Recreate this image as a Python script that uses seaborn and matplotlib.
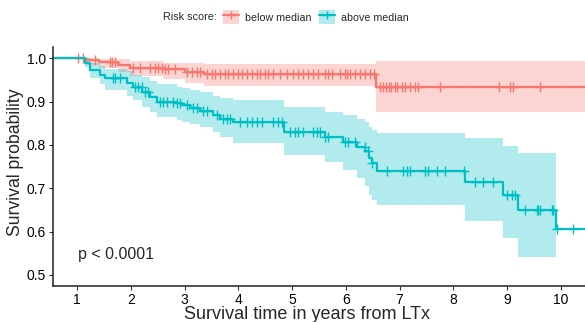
import numpy as np
import pandas as pd
import seaborn as sns
import matplotlib.pyplot as plt
from matplotlib.patches import Patch
from matplotlib.lines import Line2D

# Kaplan-Meier estimates (time in years from LTx)
low_time = [0.0, 1.15, 1.40, 1.75, 1.98, 2.60, 3.00, 3.35, 6.56, 10.6]
low_surv = [1.0, 0.996, 0.992, 0.985, 0.978, 0.975, 0.969, 0.964, 0.934, 0.934]
low_upper = [1.0, 1.0, 0.998, 0.998, 0.993, 0.990, 0.990, 0.987, 0.994, 0.994]
low_lower = [1.0, 0.985, 0.978, 0.968, 0.958, 0.952, 0.944, 0.935, 0.877, 0.877]
low_censor = [1.01, 1.11, 1.33, 1.61, 1.65, 1.70, 2.04, 2.17, 2.35, 2.45, 2.50, 2.58,
              2.63, 2.69, 2.82, 3.04, 3.14, 3.23, 3.29, 3.41, 3.51, 3.56, 3.65, 3.75,
              3.81, 3.90, 3.99, 4.07, 4.16, 4.25, 4.34, 4.40, 4.49, 4.55, 4.64, 4.77,
              4.90, 5.02, 5.11, 5.20, 5.30, 5.39, 5.48, 5.61, 5.67, 5.74, 5.89, 5.99,
              6.02, 6.08, 6.17, 6.26, 6.35, 6.45, 6.52, 6.63, 6.69, 6.74, 6.80, 6.85,
              6.91, 6.96, 7.04, 7.11, 7.19, 7.28, 7.34, 7.75, 8.85, 9.06, 9.12, 9.62]

high_time = [0.0, 1.11, 1.15, 1.24, 1.42, 1.52, 1.93, 2.04, 2.21, 2.35, 2.48, 2.86,
             2.95, 3.10, 3.28, 3.52, 3.66, 3.90, 4.85, 5.61, 5.95, 6.21, 6.36, 6.43,
             6.49, 6.58, 8.22, 8.93, 9.21, 9.91, 10.6]
high_surv = [1.0, 1.0, 0.99, 0.973, 0.961, 0.954, 0.942, 0.933, 0.923, 0.911, 0.900, 0.896,
             0.892, 0.885, 0.879, 0.869, 0.859, 0.854, 0.830, 0.819, 0.807, 0.796, 0.785, 0.770,
             0.758, 0.741, 0.715, 0.685, 0.651, 0.605, 0.605]
# band stops at the last event (9.91 years)
high_upper = [1.0, 1.0, 0.998, 0.990, 0.982, 0.976, 0.970, 0.962, 0.956, 0.948, 0.940, 0.934,
              0.931, 0.927, 0.923, 0.914, 0.908, 0.904, 0.888, 0.877, 0.869, 0.861, 0.853, 0.842,
              0.835, 0.828, 0.815, 0.797, 0.782, 0.782]
high_lower = [1.0, 1.0, 0.980, 0.955, 0.940, 0.927, 0.912, 0.904, 0.888, 0.875, 0.865, 0.857,
              0.854, 0.848, 0.842, 0.830, 0.819, 0.804, 0.777, 0.761, 0.742, 0.723, 0.705, 0.685,
              0.672, 0.661, 0.625, 0.585, 0.542, 0.542]
high_censor = [1.67, 1.70, 1.80, 2.07, 2.13, 2.20, 2.26, 2.32, 2.54, 2.60, 2.67, 2.78,
               2.86, 2.91, 3.04, 3.16, 3.23, 3.34, 3.42, 3.60, 3.71, 3.79, 3.84, 4.03,
               4.16, 4.25, 4.34, 4.44, 4.64, 4.73, 4.81, 4.96, 5.05, 5.11, 5.20, 5.39,
               5.46, 5.52, 5.61, 5.67, 5.99, 6.04, 6.17, 6.35, 6.41, 6.49, 6.77, 7.06,
               7.14, 7.19, 7.47, 7.53, 7.70, 7.85, 8.20, 8.40, 8.55, 8.74, 9.00, 9.09,
               9.15, 9.33, 9.56, 9.58, 9.62, 9.84, 9.86, 9.93, 10.23]

groups = ["below median", "above median"]
colors = {"below median": "#F8766D", "above median": "#00BFC4"}

sns.set_style("white")
plt.rcParams['font.family'] = ['Liberation Sans', 'DejaVu Sans']

fig = plt.figure(figsize=(5.85, 3.22), dpi=100)
ax = fig.add_axes([53 / 585, 36 / 322, 532 / 585, 239 / 322])

series = {
    "below median": (low_time, low_surv, low_upper, low_lower, low_censor),
    "above median": (high_time, high_surv, high_upper, high_lower, high_censor),
}

for g in groups:
    t, s, up, lo, cens = series[g]
    col = colors[g]
    n = len(up)
    ax.fill_between(t[:n], lo, up, step="post", color=col, alpha=0.3, linewidth=0)
    df = pd.DataFrame({"time": t, "surv": s})
    sns.lineplot(data=df, x="time", y="surv", drawstyle="steps-post", color=col,
                 linewidth=1.6, ax=ax, estimator=None, sort=False)
    # censor marks sit on the curve
    idx = np.searchsorted(np.array(t), np.array(cens), side="right") - 1
    ax.plot(cens, np.array(s)[idx], ls="none", marker="+", color=col,
            markersize=6.5, markeredgewidth=1)

ax.set_xlim(0.5475, 10.454)
ax.set_ylim(0.4746, 1.026)
ax.set_xticks(range(1, 11))
ax.set_yticks([0.5, 0.6, 0.7, 0.8, 0.9, 1.0])
ax.set_yticklabels(["0.5", "0.6", "0.7", "0.8", "0.9", "1.0"])
ax.tick_params(axis="both", labelsize=10, colors="#333333", length=3, width=0.8,
               direction="out", labelcolor="black", pad=2)
ax.tick_params(left=True, bottom=True)
for side in ["top", "right"]:
    ax.spines[side].set_visible(False)
for side in ["left", "bottom"]:
    ax.spines[side].set_color("#222222")
    ax.spines[side].set_linewidth(1.1)

ax.set_xlabel("Survival time in years from LTx", fontsize=13)
ax.set_ylabel("Survival probability", fontsize=12.7)
ax.xaxis.set_label_coords(0.477, -0.085)
ax.yaxis.set_label_coords(-0.055, 0.52)

ax.text(1.01, 0.548, "p < 0.0001", fontsize=11.5, va="center", ha="left")

# legend on top
fig.text(217 / 585, 1 - 17 / 322, "Risk score:", fontsize=7.8, ha="right", va="center")
handles = []
for g in groups:
    handles.append((Patch(facecolor=colors[g], alpha=0.3, edgecolor="none"),
                    Line2D([], [], color=colors[g], linewidth=1.6, marker="+",
                           markersize=6, markeredgewidth=1)))
fig.legend(handles, groups, loc="center left", bbox_to_anchor=(223 / 585, 1 - 17 / 322),
           ncol=2, frameon=False, fontsize=7.7, handlelength=1.5, handleheight=1.6,
           handletextpad=0.55, columnspacing=0.75, borderpad=0, borderaxespad=0)

fig.savefig("out.png", dpi=100)
